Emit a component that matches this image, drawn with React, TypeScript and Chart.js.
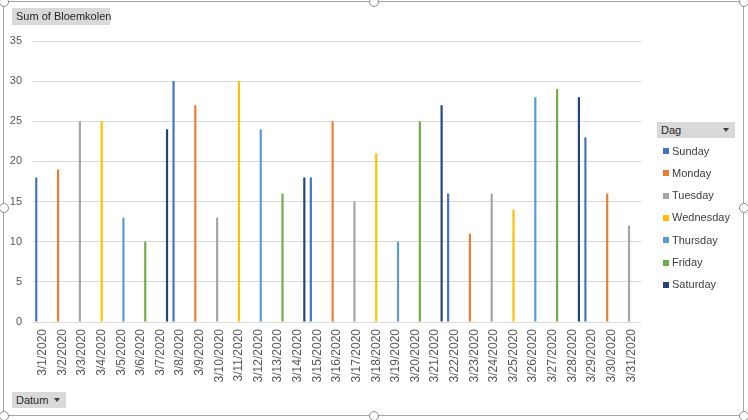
import React, { useEffect, useRef } from "react";
import { Chart, registerables } from "chart.js";

Chart.register(...registerables);

const dates: string[] = [
  "3/1/2020", "3/2/2020", "3/3/2020", "3/4/2020", "3/5/2020", "3/6/2020", "3/7/2020",
  "3/8/2020", "3/9/2020", "3/10/2020", "3/11/2020", "3/12/2020", "3/13/2020", "3/14/2020",
  "3/15/2020", "3/16/2020", "3/17/2020", "3/18/2020", "3/19/2020", "3/20/2020", "3/21/2020",
  "3/22/2020", "3/23/2020", "3/24/2020", "3/25/2020", "3/26/2020", "3/27/2020", "3/28/2020",
  "3/29/2020", "3/30/2020", "3/31/2020",
];

const bloemkolen: number[] = [
  18, 19, 25, 25, 13, 10, 24,
  30, 27, 13, 30, 24, 16, 18,
  18, 25, 15, 21, 10, 25, 27,
  16, 11, 16, 14, 28, 29, 28,
  23, 16, 12,
];

const days: string[] = ["Sunday", "Monday", "Tuesday", "Wednesday", "Thursday", "Friday", "Saturday"];
const dayColors: string[] = ["#4472C4", "#ED7D31", "#A5A5A5", "#FFC000", "#5B9BD5", "#70AD47", "#264478"];

const yTicks = { min: 0, max: 35, step: 5 };

const FONT = "'Liberation Sans', Arial, sans-serif";

function weekdayOf(label: string): number {
  const [m, d, y] = label.split("/").map(Number);
  return new Date(y, m - 1, d).getDay();
}

const legendPlugin = {
  id: "excelLegend",
  afterDraw(chart: any) {
    const ctx = chart.ctx;
    ctx.save();
    ctx.font = `11px ${FONT}`;
    ctx.textBaseline = "middle";
    ctx.textAlign = "left";
    chart.data.datasets.forEach((ds: any, i: number) => {
      const cy = 151 + i * 22.3;
      ctx.fillStyle = ds.backgroundColor;
      ctx.fillRect(663, Math.round(cy - 3), 6, 6);
      ctx.fillStyle = "#404040";
      ctx.fillText(ds.label, 672, cy + 0.5);
    });
    ctx.restore();
  },
};

function Handle({ x, y }: { x: number; y: number }) {
  return (
    <div
      style={{
        position: "absolute",
        left: x - 5,
        top: y - 5,
        width: 8,
        height: 8,
        borderRadius: "50%",
        border: "1px solid #8a8a8a",
        background: "#fff",
      }}
    />
  );
}

function FieldButton({ x, y, w, h, text, arrow }: { x: number; y: number; w: number; h: number; text: string; arrow?: boolean }) {
  return (
    <div
      style={{
        position: "absolute",
        left: x,
        top: y,
        width: w,
        height: h,
        background: "#d9d9d9",
        font: `11px ${FONT}`,
        color: "#262626",
        lineHeight: `${h}px`,
        paddingLeft: 4,
        boxSizing: "border-box",
        whiteSpace: "nowrap",
      }}
    >
      {text}
      {arrow && (
        <div
          style={{
            position: "absolute",
            right: 6,
            top: h / 2 - 2,
            width: 0,
            height: 0,
            borderLeft: "3.5px solid transparent",
            borderRight: "3.5px solid transparent",
            borderTop: "4px solid #404040",
          }}
        />
      )}
    </div>
  );
}

export default function App() {
  const ref = useRef<HTMLCanvasElement | null>(null);

  useEffect(() => {
    if (!ref.current) return;
    const weekdays = dates.map(weekdayOf);
    const datasets = days.map((name, di) => ({
      label: name,
      data: bloemkolen.map((v, i) => (weekdays[i] === di ? v : null)),
      backgroundColor: dayColors[di],
      borderWidth: 0,
      categoryPercentage: 0.78,
      barPercentage: 1,
    }));
    const chart = new Chart(ref.current, {
      type: "bar",
      data: { labels: dates, datasets },
      plugins: [legendPlugin],
      options: {
        animation: false,
        responsive: false,
        maintainAspectRatio: false,
        layout: { padding: { left: 0, top: 41, right: 107, bottom: 0 } },
        plugins: {
          legend: { display: false },
          tooltip: { enabled: false },
          title: { display: false },
        },
        scales: {
          x: {
            grid: { display: false, drawTicks: false },
            border: { display: false },
            ticks: {
              autoSkip: false,
              minRotation: 90,
              maxRotation: 90,
              padding: 7,
              color: "#595959",
              font: { family: FONT, size: 12 },
            },
            afterFit(scale: any) {
              scale.height = 98;
            },
          },
          y: {
            min: yTicks.min,
            max: yTicks.max,
            grid: { color: "#d9d9d9", drawTicks: false, lineWidth: 1 },
            border: { display: false },
            ticks: {
              stepSize: yTicks.step,
              padding: 11,
              color: "#595959",
              font: { family: FONT, size: 11 },
            },
            afterFit(scale: any) {
              scale.width = 33;
            },
          },
        },
      },
    });
    return () => chart.destroy();
  }, []);

  return (
    <div style={{ position: "fixed", left: 0, top: 0, width: 748, height: 420, background: "#fff", overflow: "hidden" }}>
      <div
        style={{
          position: "absolute",
          left: 3,
          top: 1,
          width: 741,
          height: 415,
          border: "1px solid #a6a6a6",
          boxSizing: "border-box",
        }}
      />
      <canvas ref={ref} width={748} height={420} style={{ position: "absolute", left: 0, top: 0, width: 748, height: 420 }} />
      <FieldButton x={12} y={8} w={98} h={17} text="Sum of Bloemkolen" />
      <FieldButton x={12} y={392} w={54} h={16} text="Datum" arrow />
      <FieldButton x={657} y={122} w={78} h={16} text="Dag" arrow />
      <Handle x={4} y={2} />
      <Handle x={374} y={2} />
      <Handle x={744} y={2} />
      <Handle x={4} y={208} />
      <Handle x={744} y={208} />
      <Handle x={4} y={416} />
      <Handle x={374} y={416} />
      <Handle x={744} y={416} />
    </div>
  );
}
